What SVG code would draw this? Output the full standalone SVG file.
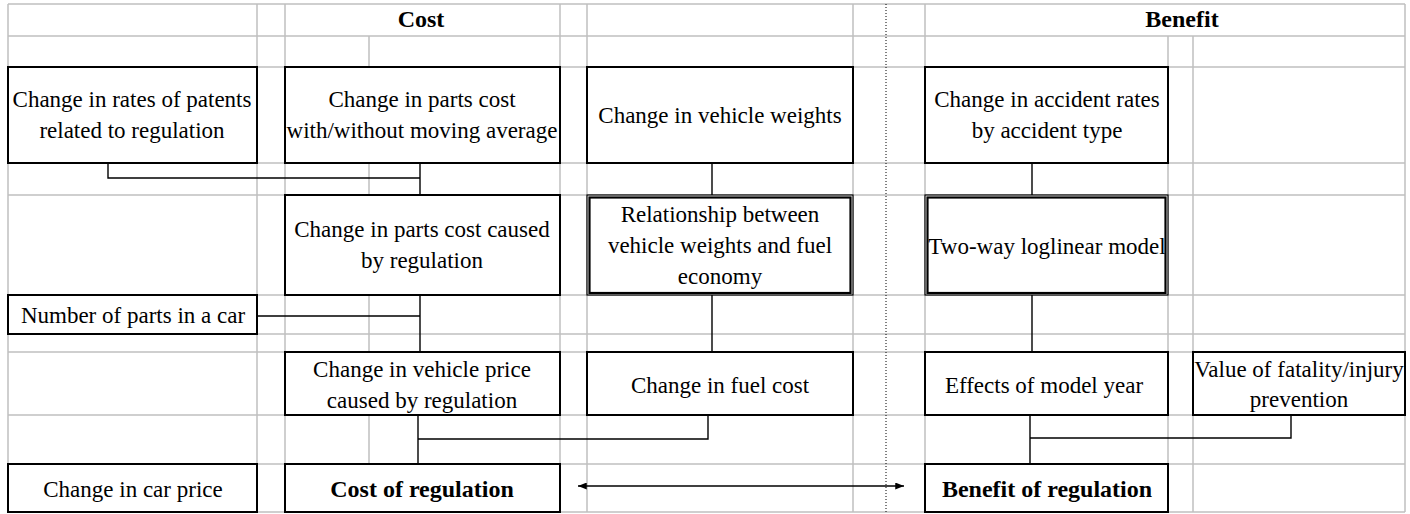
<svg xmlns="http://www.w3.org/2000/svg" width="1410" height="514" viewBox="0 0 1410 514">
<style>
.grid{stroke:#c0c0c0;stroke-width:1.5;fill:none}
.box{fill:#fff;stroke:#000;stroke-width:2}
.outer{fill:#fff;stroke:#000;stroke-width:1.2}
.inner{fill:none;stroke:#000;stroke-width:2.2}
.conn{fill:none;stroke:#000;stroke-width:1.4}
.t{font-family:"Liberation Serif","Times New Roman",serif;font-size:23px;text-anchor:middle;fill:#000}
.b{font-weight:bold;font-size:24px}
</style>
<defs>
<marker id="ah" viewBox="0 0 10 8" refX="10" refY="4" markerWidth="9" markerHeight="7" markerUnits="userSpaceOnUse" orient="auto-start-reverse">
<path d="M0,0 L10,4 L0,8 Z" fill="#000"/>
</marker>
</defs>
<rect width="1410" height="514" fill="#fff"/>
<g id="gridlines">
<path class="grid" d="M8,4 H1405 M8,36 H1405 M8,67 H1405 M8,163 H1405 M8,195 H1405 M8,295 H1405 M8,334 H1405 M8,352 H1405 M8,415 H1405 M8,464 H1405 M8,512 H1405"/>
<path class="grid" d="M8,4 V512 M257,4 V512 M285,4 V512 M369,36 V512 M560,4 V512 M587,4 V512 M853,4 V512 M925,4 V512 M1168,36 V512 M1193,36 V512 M1405,4 V512"/>
<path d="M886,4 V512" stroke="#000" stroke-width="1" stroke-dasharray="1,2" fill="none"/>
<text class="t b" x="421" y="27">Cost</text>
<text class="t b" x="1182" y="27">Benefit</text>
</g>
<g id="connectors">
<path class="conn" d="M108,163 V178 H420 M420,163 V195"/>
<path class="conn" d="M257,316 H420 M420,295 V352"/>
<path class="conn" d="M712,163 V195 M712,295 V352"/>
<path class="conn" d="M1032,163 V195 M1032,295 V352"/>
<path class="conn" d="M418,415 V464 M418,439 H708 V415"/>
<path class="conn" d="M1030,415 V464 M1030,438 H1291 V415"/>
<path class="conn" d="M578,486 H904" marker-start="url(#ah)" marker-end="url(#ah)"/>
</g>
<g id="n-patents"><rect class="box" x="8" y="67" width="249" height="96"/><text class="t" x="132" y="107">Change in rates of patents</text><text class="t" x="132" y="138">related to regulation</text></g>
<g id="n-partscost"><rect class="box" x="285" y="67" width="275" height="96"/><text class="t" x="422" y="107">Change in parts cost</text><text class="t" x="422" y="138">with/without moving average</text></g>
<g id="n-weights"><rect class="box" x="587" y="67" width="266" height="96"/><text class="t" x="720" y="123">Change in vehicle weights</text></g>
<g id="n-accident"><rect class="box" x="925" y="67" width="243" height="96"/><text class="t" x="1047" y="107">Change in accident rates</text><text class="t" x="1047" y="138">by accident type</text></g>
<g id="n-partscaused"><rect class="box" x="285" y="195" width="275" height="100"/><text class="t" x="422" y="237">Change in parts cost caused</text><text class="t" x="422" y="268">by regulation</text></g>
<g id="n-relationship"><rect class="outer" x="587" y="195" width="266" height="100"/><rect class="inner" x="589.5" y="197.5" width="261" height="95.5"/><text class="t" x="720" y="222">Relationship between</text><text class="t" x="720" y="253">vehicle weights and fuel</text><text class="t" x="720" y="284">economy</text></g>
<g id="n-twoway"><rect class="outer" x="925" y="195" width="243" height="100"/><rect class="inner" x="927.5" y="197.5" width="238" height="95.5"/><text class="t" x="1047" y="254">Two-way loglinear model</text></g>
<g id="n-numparts"><rect class="box" x="8" y="295" width="249" height="39"/><text class="t" x="133" y="323">Number of parts in a car</text></g>
<g id="n-vehprice"><rect class="box" x="285" y="352" width="275" height="63"/><text class="t" x="422" y="377">Change in vehicle price</text><text class="t" x="422" y="408">caused by regulation</text></g>
<g id="n-fuel"><rect class="box" x="587" y="352" width="266" height="63"/><text class="t" x="720" y="393">Change in fuel cost</text></g>
<g id="n-effects"><rect class="box" x="925" y="352" width="243" height="63"/><text class="t" x="1044" y="393">Effects of model year</text></g>
<g id="n-value"><rect class="box" x="1193" y="352" width="212" height="63"/><text class="t" x="1299" y="377">Value of fatality/injury</text><text class="t" x="1299" y="407">prevention</text></g>
<g id="n-carprice"><rect class="box" x="8" y="464" width="249" height="48"/><text class="t" x="133" y="497">Change in car price</text></g>
<g id="n-cost"><rect class="box" x="285" y="464" width="275" height="48"/><text class="t b" x="422" y="497">Cost of regulation</text></g>
<g id="n-benefit"><rect class="box" x="925" y="464" width="243" height="48"/><text class="t b" x="1047" y="497">Benefit of regulation</text></g>
</svg>
